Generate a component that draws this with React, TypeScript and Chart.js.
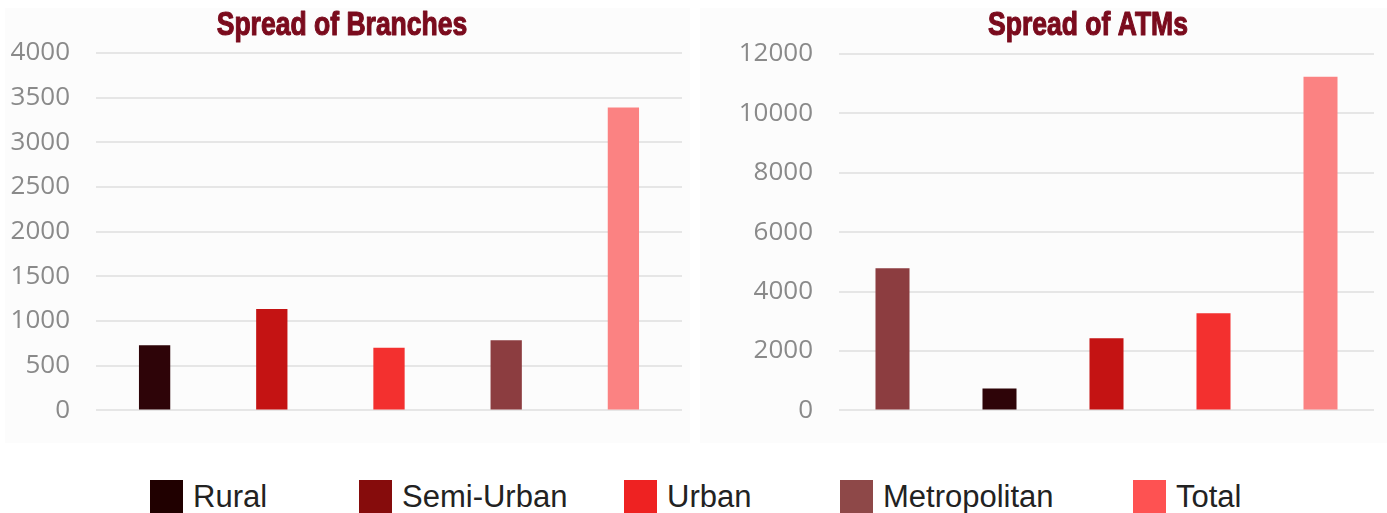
import React, { useEffect, useRef } from "react";
import { Chart, registerables } from "chart.js";

Chart.register(...registerables);

// ---- Data ----
const branchCategories = ["Rural", "Semi-Urban", "Urban", "Metropolitan", "Total"];
const branchValues = [730, 1135, 700, 785, 3390];
const branchTicks = { min: 0, max: 4000, step: 500 };

const atmCategories = ["Metropolitan", "Rural", "Semi-Urban", "Urban", "Total"];
const atmValues = [4790, 740, 2430, 3270, 11230];
const atmTicks = { min: 0, max: 12000, step: 2000 };

const legendLabels = ["Rural", "Semi-Urban", "Urban", "Metropolitan", "Total"];

// ---- Styles ----
const barColorByCategory: Record<string, string> = {
  Rural: "#2e0408",
  "Semi-Urban": "#c41313",
  Urban: "#f3302f",
  Metropolitan: "#8c3d40",
  Total: "#fb8282",
};
const legendColorByCategory: Record<string, string> = {
  Rural: "#200000",
  "Semi-Urban": "#860c0c",
  Urban: "#ee2222",
  Metropolitan: "#8e4848",
  Total: "#fe5252",
};
const legendLefts = [150, 359, 624, 840, 1133];

const titleColor = "#7a0b1d";
const titleFont = "bold 34px 'Liberation Sans', Arial, sans-serif";

const panelTitlePlugin = {
  id: "panelTitle",
  afterDraw(chart: any, _args: any, opts: any) {
    if (!opts || !opts.text) return;
    const ctx = chart.ctx;
    ctx.save();
    ctx.font = opts.font;
    ctx.fillStyle = opts.color;
    ctx.strokeStyle = opts.color;
    ctx.lineWidth = 1.2;
    ctx.lineJoin = "round";
    ctx.textAlign = "center";
    ctx.textBaseline = "middle";
    ctx.translate(opts.x, opts.y);
    ctx.scale(opts.scaleX, 1);
    ctx.fillText(opts.text, 0, 0);
    ctx.strokeText(opts.text, 0, 0);
    ctx.restore();
  },
};

type PanelProps = {
  title: string;
  categories: string[];
  values: number[];
  ticks: { min: number; max: number; step: number };
  left: number;
  width: number;
  height: number;
  axisWidth: number;
  padRight: number;
  padTop: number;
  barFrac: number;
  titleX: number;
};

function BarPanel(p: PanelProps) {
  const ref = useRef<HTMLCanvasElement | null>(null);
  useEffect(() => {
    if (!ref.current) return;
    const chart = new Chart(ref.current, {
      type: "bar",
      data: {
        labels: p.categories,
        datasets: [
          {
            label: p.title,
            data: p.values,
            backgroundColor: p.categories.map((c) => barColorByCategory[c]),
            borderWidth: 0,
            categoryPercentage: 1,
            barPercentage: p.barFrac,
          },
        ],
      },
      options: {
        responsive: false,
        maintainAspectRatio: false,
        animation: false,
        layout: {
          padding: { left: 0, right: p.padRight, top: p.padTop, bottom: 0 },
        },
        plugins: {
          legend: { display: false },
          tooltip: { enabled: false },
          title: { display: false },
          panelTitle: { text: p.title, x: p.titleX, y: 26, font: titleFont, color: titleColor, scaleX: 0.78 },
        } as any,
        scales: {
          x: {
            display: false,
            grid: { display: false },
          },
          y: {
            min: p.ticks.min,
            max: p.ticks.max,
            border: { display: false },
            grid: { color: "#e6e6e6", lineWidth: 2, drawTicks: false },
            ticks: {
              stepSize: p.ticks.step,
              padding: 26,
              color: "#8a8a8a",
              font: { family: "'Open Sans', sans-serif", size: 26 },
              callback: (v: any) => String(v),
            },
            afterFit: (scale: any) => {
              scale.width = p.axisWidth;
            },
          },
        },
      },
      plugins: [panelTitlePlugin],
    });
    return () => chart.destroy();
  }, []);
  return (
    <canvas
      ref={ref}
      width={p.width}
      height={p.height}
      style={{ position: "absolute", left: p.left, top: 0, width: p.width, height: p.height }}
    />
  );
}

export default function App() {
  return (
    <div
      style={{
        position: "absolute",
        left: 0,
        top: 0,
        width: 1387,
        height: 513,
        overflow: "hidden",
        background: "#ffffff",
      }}
    >
      <div style={{ position: "absolute", left: 5, top: 8, width: 685, height: 435, background: "#fcfcfc" }} />
      <div style={{ position: "absolute", left: 700, top: 8, width: 687, height: 435, background: "#fcfcfc" }} />
      <BarPanel
        title="Spread of Branches"
        categories={branchCategories}
        values={branchValues}
        ticks={branchTicks}
        left={0}
        width={690}
        height={452}
        axisWidth={96}
        padRight={8}
        padTop={53}
        barFrac={0.267}
        titleX={342}
      />
      <BarPanel
        title="Spread of ATMs"
        categories={atmCategories}
        values={atmValues}
        ticks={atmTicks}
        left={700}
        width={687}
        height={452}
        axisWidth={139}
        padRight={13}
        padTop={54}
        barFrac={0.318}
        titleX={388}
      />
      {legendLabels.map((lab, i) => (
        <div
          key={lab}
          style={{
            position: "absolute",
            left: legendLefts[i],
            top: 480,
            height: 33,
            display: "flex",
            alignItems: "center",
            whiteSpace: "nowrap",
          }}
        >
          <div style={{ width: 33, height: 33, background: legendColorByCategory[lab] }} />
          <span
            style={{
              marginLeft: 10,
              fontFamily: "'Liberation Sans', Arial, sans-serif",
              fontSize: 31,
              color: "#222222",
              lineHeight: "33px",
            }}
          >
            {lab}
          </span>
        </div>
      ))}
    </div>
  );
}
